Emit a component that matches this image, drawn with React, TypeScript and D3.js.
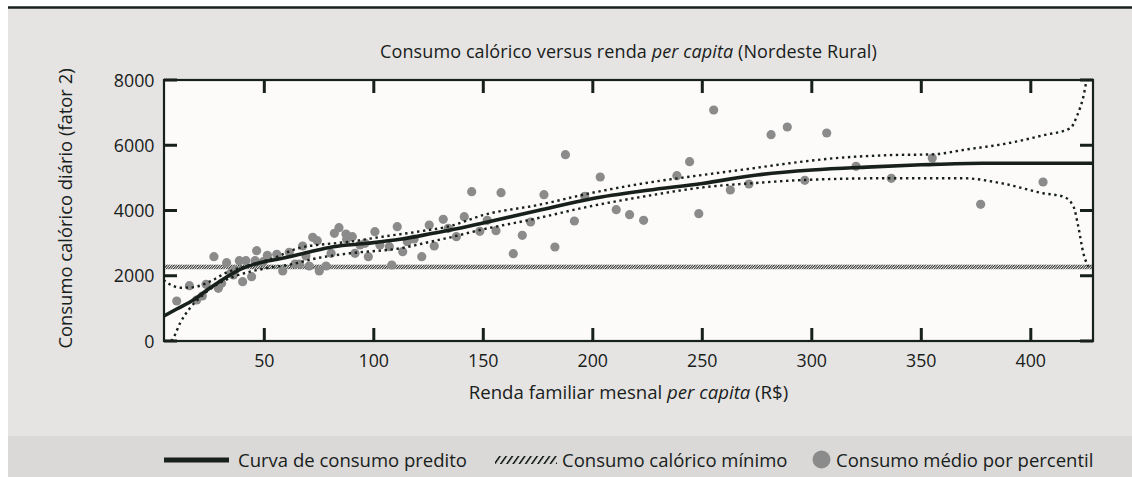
import React from 'react';
import * as d3 from 'd3';

// income (R$) vs daily kcal
const predictedCurve: [number, number][] = [
  [4, 760], [10, 980], [17.6, 1257], [25, 1615], [33, 1971], [40, 2228], [48, 2400],
  [56, 2504], [63, 2605], [71, 2737], [81.5, 2891], [97, 2994], [112, 3117], [127, 3301],
  [135, 3402], [150, 3620], [175, 4000], [200, 4370], [225, 4620], [250, 4830], [275, 5090],
  [300, 5240], [325, 5330], [350, 5400], [378, 5450], [428.5, 5450],
];

const upperBand: [number, number][] = [
  [4, 1870], [8, 1700], [11.5, 1634], [16, 1640], [19, 1665], [25, 1818], [33, 2106],
  [42, 2300], [56, 2585], [63, 2789], [71, 2920], [75, 2950], [89, 3044], [104, 3197],
  [120, 3350], [135, 3525], [150, 3862], [175, 4168], [200, 4546], [225, 4852], [250, 5088],
  [273, 5293], [290, 5450], [310, 5600], [337, 5700], [355, 5720], [371, 5875], [387, 6030],
  [406, 6310], [418, 6520], [421, 6880], [424, 7490], [425.5, 7950], [426, 8000],
];

const lowerBand: [number, number][] = [
  [7.5, 0], [8.4, 82], [11.5, 542], [16, 1002], [22, 1410], [28, 1716], [36, 1971],
  [43.5, 2124], [52.6, 2248], [63, 2360], [72, 2510], [89, 2688], [112, 2841], [126, 3044],
  [135, 3178], [148.5, 3402], [171, 3709], [199.5, 4138], [224.6, 4444], [249, 4699],
  [276, 4852], [296, 4935], [337, 4990], [369, 4990], [387, 4830], [405.6, 4530], [415, 4420],
  [419.5, 4120], [421.7, 3500], [424, 2690], [426.3, 2280],
];

const percentileMeans: [number, number][] = [
  [10, 1226], [15.8, 1695], [19.1, 1257], [21.7, 1380], [23.4, 1737], [27, 2585], [29, 1615],
  [30.5, 1768], [32.8, 2400], [34.7, 2075], [36.6, 2176], [35.9, 2023], [38.6, 2461], [40.1, 1818],
  [41.6, 2461], [44.2, 1971], [46.5, 2768], [45.8, 2461], [49.5, 2431], [51.4, 2627], [55.7, 2657],
  [58.4, 2146], [61.4, 2719], [64, 2360], [66, 2360],
  [67.5, 2912], [69, 2605], [70.5, 2299], [72.1, 3178], [74.2, 3074], [75.1, 2146], [78.2, 2299],
  [80.5, 2688], [82, 3301], [84.1, 3473], [87.3, 3280], [87.6, 3117], [90.2, 3197], [91.4, 2688],
  [93.7, 2943], [96, 2994], [97.5, 2585], [100.5, 3350], [102.8, 2943], [107.1, 2891], [108.2, 2330],
  [110.7, 3504], [113.2, 2737], [115.3, 3044], [118.4, 3126], [121.9, 2585], [125.3, 3556],
  [127.6, 2912], [131.7, 3730], [134, 3454],
  [137.7, 3197], [141.3, 3810], [144.7, 4576], [148.4, 3362], [151.8, 3699], [155.8, 3381],
  [158.1, 4546], [163.7, 2676], [167.8, 3240], [171.6, 3648], [177.7, 4484], [182.7, 2881],
  [187.5, 5711], [191.6, 3678], [196.3, 4435], [203.4, 5027], [210.7, 4025], [216.8, 3872],
  [223.2, 3699], [238.4, 5067], [244.2, 5496], [248.4, 3902], [255.2, 7080], [262.8, 4628],
  [271.3, 4812],
  [281.4, 6324], [288.8, 6560], [296.8, 4925], [306.8, 6376], [320.2, 5354], [336.3, 4986],
  [355, 5609], [377.1, 4189], [405.6, 4873],
];

const minimumKcal = 2270;
const xTicks = [50, 100, 150, 200, 250, 300, 350, 400];
const yTicks = [0, 2000, 4000, 6000, 8000];

const W = 1132;
const H = 477;
const ink = '#18201b';
const dotGray = '#8b8b8b';
const font = '"Open Sans", sans-serif';

export default function App() {
  const left = 164, right = 1093, top = 80, bottom = 341;

  const x = d3.scaleLinear().domain([4.2, 428.4]).range([left, right]);
  const y = d3.scaleLinear().domain([0, 8000]).range([bottom, top]);

  const line = d3.line<[number, number]>()
    .x(d => x(d[0]))
    .y(d => y(d[1]))
    .curve(d3.curveMonotoneX);

  const tickLen = 13;

  return (
    <svg width={W} height={H} style={{ position: 'absolute', left: 0, top: 0 }}>
      <defs>
        <pattern id="hatch" width="2.4" height="6" patternUnits="userSpaceOnUse" patternTransform="skewX(-40)">
          <rect width="1.3" height="6" fill="#2e322f" />
        </pattern>
        <pattern id="hatchLegend" width="6.2" height="10" patternUnits="userSpaceOnUse" patternTransform="skewX(-35)">
          <rect width="2" height="10" fill={ink} />
        </pattern>
        <clipPath id="plotClip">
          <rect x={left} y={top} width={right - left} height={bottom - top} />
        </clipPath>
      </defs>

      {/* panel */}
      <rect x={8} y={8} width={W - 8} height={H - 8} fill="#e5e4e2" />
      <rect x={8} y={436} width={W - 8} height={H - 436} fill="#dad9d7" />
      <line x1={8} x2={W} y1={7.5} y2={7.5} stroke={ink} strokeWidth={2.5} />

      <text x={(left + right) / 2} y={58} textAnchor="middle" fontFamily={font} fontSize={18} letterSpacing={0.1} fill={ink}>
        Consumo calórico versus renda <tspan fontStyle="italic">per capita</tspan> (Nordeste Rural)
      </text>

      {/* plot */}
      <rect x={left} y={top} width={right - left} height={bottom - top} fill="#fcfbf9" />

      <g clipPath="url(#plotClip)">
        <rect x={left} y={y(minimumKcal + 70)} width={right - left} height={y(minimumKcal - 70) - y(minimumKcal + 70)} fill="url(#hatch)" />

        {percentileMeans.map((d, i) => (
          <circle key={i} cx={x(d[0])} cy={y(d[1])} r={4.6} fill={dotGray} />
        ))}

        <path d={line(upperBand) || ''} fill="none" stroke={ink} strokeWidth={2.4} strokeDasharray="2.4 3.6" />
        <path d={line(lowerBand) || ''} fill="none" stroke={ink} strokeWidth={2.4} strokeDasharray="2.4 3.6" />
        <path d={line(predictedCurve) || ''} fill="none" stroke={ink} strokeWidth={3.6} />
      </g>

      {/* ticks, inward on all four sides */}
      {xTicks.map(t => (
        <g key={'x' + t}>
          <line x1={x(t)} x2={x(t)} y1={top} y2={top + tickLen} stroke={ink} strokeWidth={3} />
          <line x1={x(t)} x2={x(t)} y1={bottom} y2={bottom - tickLen} stroke={ink} strokeWidth={3} />
          <text x={x(t)} y={366.5} textAnchor="middle" fontFamily={font} fontSize={17.8} fill={ink}>{t}</text>
        </g>
      ))}
      {yTicks.map(t => (
        <g key={'y' + t}>
          <line x1={left} x2={left + tickLen} y1={y(t)} y2={y(t)} stroke={ink} strokeWidth={3} />
          <line x1={right} x2={right - tickLen} y1={y(t)} y2={y(t)} stroke={ink} strokeWidth={3} />
          <text x={154.5} y={y(t) + 6.5} textAnchor="end" fontFamily={font} fontSize={17.8} fill={ink}>{t}</text>
        </g>
      ))}

      <rect x={left} y={top} width={right - left} height={bottom - top} fill="none" stroke={ink} strokeWidth={2.2} />

      <text x={(left + right) / 2} y={398.5} textAnchor="middle" fontFamily={font} fontSize={18.6} fill={ink}>
        Renda familiar mesnal <tspan fontStyle="italic">per capita</tspan> (R$)
      </text>
      <text transform={`translate(71.5, ${(top + bottom) / 2 - 2}) rotate(-90)`} textAnchor="middle" fontFamily={font} fontSize={18.4} fill={ink}>
        Consumo calórico diário (fator 2)
      </text>

      {/* legend */}
      <line x1={164} x2={229} y1={460} y2={460} stroke={ink} strokeWidth={5} />
      <text x={238} y={466.5} fontFamily={font} fontSize={18.5} fill={ink}>Curva de consumo predito</text>
      <rect x={495} y={456} width={62} height={8} fill="url(#hatchLegend)" />
      <text x={562} y={466.5} fontFamily={font} fontSize={18.5} fill={ink}>Consumo calórico mínimo</text>
      <circle cx={821.5} cy={459.5} r={9} fill={dotGray} />
      <text x={836} y={466.5} fontFamily={font} fontSize={18.5} fill={ink}>Consumo médio por percentil</text>
    </svg>
  );
}
